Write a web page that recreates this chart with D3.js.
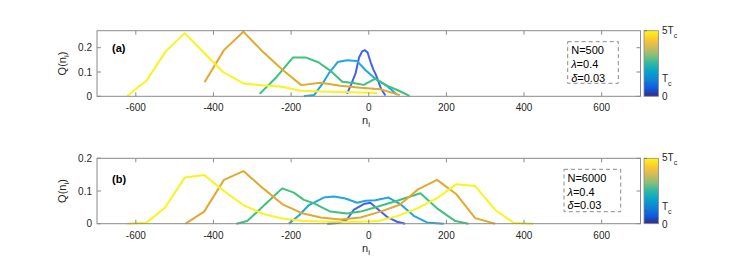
<!DOCTYPE html>
<html>
<head>
<meta charset="utf-8">
<script src="https://cdn.jsdelivr.net/npm/d3@7"></script>
<style>
  html, body { margin: 0; padding: 0; background: #fff; }
  svg { display: block; font-family: "Liberation Sans", Arial, sans-serif; }
</style>
</head>
<body>
<svg id="chart" width="747" height="269"></svg>
<script>
// temperatures of the curves, in units of Tc (colour order)
const curveColors = ['#4560f0', '#22a6e0', '#3cc27c', '#e3a92e', '#f8f41c'];

// panel (a): N = 500
const nA1 = [-56, -45, -34, -25, -17, -10, -3, 5, 12, 18, 25, 32, 43];
const qA1 = [0.01, 0.05, 0.094, 0.16, 0.185, 0.19, 0.18, 0.14, 0.11, 0.09, 0.06, 0.03, 0.003];
const nA2 = [-167, -141, -120, -103, -80, -56, -30, -8, 17, 45, 73];
const qA2 = [0, 0.005, 0.05, 0.094, 0.141, 0.148, 0.145, 0.107, 0.072, 0.045, 0.006];
const nA3 = [-281, -240, -195, -163, -130, -100, -68, -40, -13, 17, 45, 75, 105];
const qA3 = [0.01, 0.075, 0.16, 0.16, 0.14, 0.107, 0.06, 0.055, 0.047, 0.073, 0.045, 0.025, 0.002];
const nA4 = [-423, -373, -323, -272, -223, -174, -124, -73, -21, 30, 80];
const qA4 = [0.058, 0.19, 0.266, 0.182, 0.11, 0.046, 0.056, 0.043, 0.035, 0.029, 0.005];
const nA5 = [-622, -572, -523, -474, -425, -375, -323, -275, -223, -176, -125, -75, -25, 21];
const qA5 = [0.001, 0.065, 0.185, 0.26, 0.18, 0.1, 0.053, 0.045, 0.039, 0.023, 0.02, 0.018, 0.016, 0.014];

// panel (b): N = 6000
const nB1 = [-107, -80, -56, -39, -13, 4, 26, 47, 73, 94];
const qB1 = [0, 0.002, 0.013, 0.042, 0.06, 0.064, 0.042, 0.021, 0.006, 0];
const nB2 = [-206, -180, -154, -116, -90, -60, -30, -8, 17, 51, 81, 116, 150, 193];
const qB2 = [0, 0.025, 0.057, 0.08, 0.083, 0.077, 0.064, 0.07, 0.072, 0.08, 0.06, 0.024, 0.004, 0];
const nB3 = [-341, -313, -268, -223, -193, -167, -141, -99, -56, -21, 22, 73, 133, 176, 223, 257];
const qB3 = [0, 0.008, 0.058, 0.108, 0.095, 0.073, 0.062, 0.037, 0.031, 0.037, 0.052, 0.07, 0.093, 0.047, 0.008, 0];
const nB4 = [-472, -424, -373, -323, -272, -223, -174, -124, -73, -21, 30, 80, 127, 176, 226, 274, 326];
const qB4 = [0, 0.037, 0.134, 0.161, 0.108, 0.06, 0.033, 0.019, 0.013, 0.019, 0.037, 0.058, 0.105, 0.134, 0.09, 0.017, 0];
const nB5 = [-622, -572, -525, -474, -424, -373, -323, -272, -223, -174, -125, -75, -25, 25, 75, 125, 176, 226, 274, 326, 373, 424];
const qB5 = [0, 0.004, 0.049, 0.141, 0.149, 0.1, 0.057, 0.03, 0.016, 0.009, 0.007, 0.006, 0.006, 0.008, 0.024, 0.047, 0.078, 0.121, 0.115, 0.042, 0.003, 0];

const xTicks = [-600, -400, -200, 0, 200, 400, 600];
const yTicksA = [0, 0.1, 0.2];
const yTicksB = [0, 0.1, 0.2];
const legendA = ['N=500', 'λ=0.4', 'δ=0.03'];
const legendB = ['N=6000', 'λ=0.4', 'δ=0.03'];

// parula stops for the colorbar
const parula = ['#352a87', '#0f5cdd', '#1481d6', '#06a4ca', '#2eb7a4', '#87bf77', '#d1bb59', '#fec832', '#f9fb0e'];

const svg = d3.select('#chart');
const defs = svg.append('defs');
const grad = defs.append('linearGradient').attr('id', 'parula')
  .attr('x1', 0).attr('y1', 1).attr('x2', 0).attr('y2', 0);
parula.forEach((c, i) => grad.append('stop').attr('offset', i / (parula.length - 1)).attr('stop-color', c));

const axisCol = '#8a8a8a';
const textCol = '#262626';

function panel(cfg) {
  const x = d3.scaleLinear().domain([-700, 700]).range([97, 640.5]);
  const y = d3.scaleLinear().domain([0, cfg.ymax]).range([cfg.bottom, cfg.top]);
  const g = svg.append('g');

  // series
  const line = d3.line().x(d => x(d[0])).y(d => y(d[1]));
  cfg.series.forEach((s, i) => {
    g.append('path')
      .datum(d3.zip(s[0], s[1]))
      .attr('d', line)
      .attr('fill', 'none')
      .attr('stroke', curveColors[i])
      .attr('stroke-width', 2)
      .attr('stroke-linejoin', 'round');
  });

  // box
  g.append('rect')
    .attr('x', 97).attr('y', cfg.top)
    .attr('width', 640.5 - 97).attr('height', cfg.bottom - cfg.top)
    .attr('fill', 'none').attr('stroke', axisCol).attr('stroke-width', 1);

  // inward ticks
  const tl = 4;
  xTicks.forEach(t => {
    g.append('line').attr('x1', x(t)).attr('x2', x(t)).attr('y1', cfg.bottom).attr('y2', cfg.bottom - tl).attr('stroke', axisCol);
    g.append('line').attr('x1', x(t)).attr('x2', x(t)).attr('y1', cfg.top).attr('y2', cfg.top + tl).attr('stroke', axisCol);
  });
  cfg.yTicks.forEach(t => {
    g.append('line').attr('y1', y(t)).attr('y2', y(t)).attr('x1', 97).attr('x2', 97 + tl).attr('stroke', axisCol);
    g.append('line').attr('y1', y(t)).attr('y2', y(t)).attr('x1', 640.5).attr('x2', 640.5 - tl).attr('stroke', axisCol);
  });

  // tick labels
  g.selectAll('.xl').data(xTicks).enter().append('text')
    .attr('x', d => x(d)).attr('y', cfg.bottom + 15)
    .attr('text-anchor', 'middle').attr('font-size', 10).attr('fill', textCol)
    .text(d => d);
  g.selectAll('.yl').data(cfg.yTicks).enter().append('text')
    .attr('x', 92).attr('y', d => y(d) + 3.5)
    .attr('text-anchor', 'end').attr('font-size', 10).attr('fill', textCol)
    .text(d => d);

  // axis labels
  const xl = g.append('text').attr('x', 366).attr('y', cfg.bottom + 28)
    .attr('text-anchor', 'middle').attr('font-size', 11).attr('fill', textCol);
  xl.append('tspan').text('n');
  xl.append('tspan').attr('font-size', 8).attr('dy', 3).text('i');

  const cy = (cfg.top + cfg.bottom) / 2;
  const yl = g.append('text').attr('transform', `translate(66,${cy}) rotate(-90)`)
    .attr('text-anchor', 'middle').attr('font-size', 11).attr('fill', textCol);
  yl.append('tspan').text('Q(n');
  yl.append('tspan').attr('font-size', 8).attr('dy', 3).text('i');
  yl.append('tspan').attr('dy', -3).text(')');

  // panel label
  g.append('text').attr('x', 112).attr('y', cfg.labelY)
    .attr('font-size', 11).attr('font-weight', 'bold').attr('fill', '#000')
    .text(cfg.label);

  // legend box
  const lb = cfg.legendBox;
  g.append('rect').attr('x', lb[0]).attr('y', lb[1]).attr('width', lb[2]).attr('height', lb[3])
    .attr('fill', '#fff').attr('stroke', '#8a8a8a').attr('stroke-dasharray', '4,3');
  cfg.legend.forEach((s, i) => {
    const t = g.append('text').attr('x', lb[0] + 3.5).attr('y', lb[1] + 12.5 + i * 13.8)
      .attr('font-size', 11).attr('fill', '#000');
    const sym = s[0];
    if (sym === 'λ' || sym === 'δ') {
      t.append('tspan').attr('font-style', 'italic').text(sym);
      t.append('tspan').text(s.slice(1));
    } else {
      t.text(s);
    }
  });

  // colorbar
  g.append('rect').attr('x', 644).attr('y', cfg.top).attr('width', 14.5).attr('height', cfg.bottom - cfg.top)
    .attr('fill', 'url(#parula)').attr('stroke', axisCol).attr('stroke-width', 0.8);
  const cb = d3.scaleLinear().domain([0, 5]).range([cfg.bottom, cfg.top]);
  [1, 5 - 0.001].forEach(v => {
    g.append('line').attr('x1', 644).attr('x2', 647).attr('y1', cb(v)).attr('y2', cb(v)).attr('stroke', '#555').attr('stroke-width', 0.6);
  });
  const cbl = [[5, '5T'], [1, 'T'], [0, '0']];
  cbl.forEach(([v, s]) => {
    const t = g.append('text').attr('x', 662).attr('y', cb(v) + (v === 5 ? 3 : v === 0 ? 4 : -1))
      .attr('font-size', 10).attr('fill', textCol);
    t.append('tspan').text(s);
    if (s !== '0') t.append('tspan').attr('font-size', 7).attr('dy', 4).text('c');
  });
}

panel({
  top: 30.7, bottom: 96.3, ymax: 0.27, yTicks: yTicksA, label: '(a)', labelY: 52,
  series: [[nA1, qA1], [nA2, qA2], [nA3, qA3], [nA4, qA4], [nA5, qA5]],
  legend: legendA, legendBox: [567.7, 41.7, 50.6, 41.6]
});
panel({
  top: 158.3, bottom: 223.7, ymax: 0.2, yTicks: yTicksB, label: '(b)', labelY: 183,
  series: [[nB1, qB1], [nB2, qB2], [nB3, qB3], [nB4, qB4], [nB5, qB5]],
  legend: legendB, legendBox: [564, 169.3, 56.7, 42.4]
});
</script>
</body>
</html>
